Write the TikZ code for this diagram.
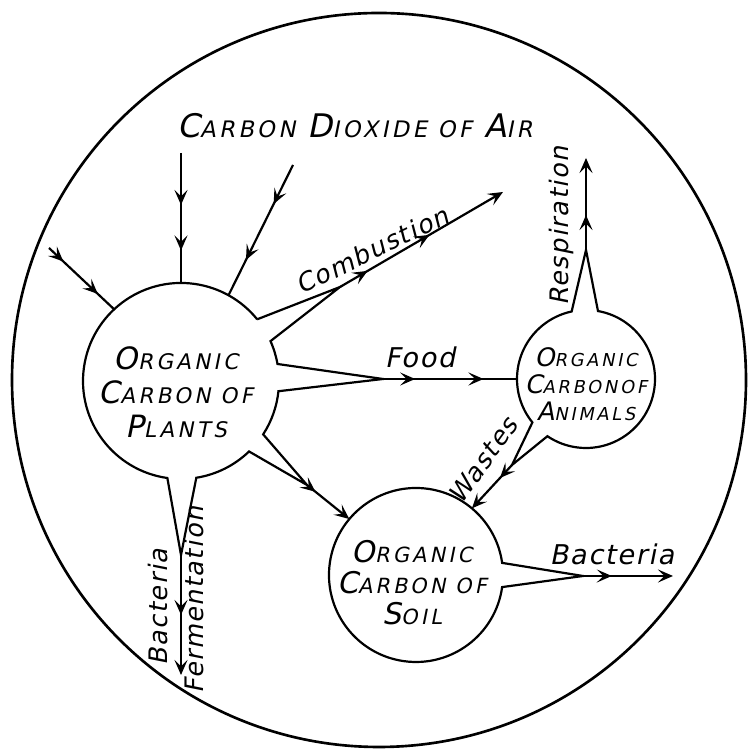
\documentclass[tikz,border=0pt]{standalone}
\usepackage{fontspec}
\newfontfamily\handfont[FakeSlant=0.2,LetterSpace=6]{DejaVu Sans}
\newfontfamily\handsmall[FakeSlant=0.2,Scale=0.7,LetterSpace=15]{DejaVu Sans}
\newcommand{\caps}[2]{#1{\handsmall #2}}
\usetikzlibrary{arrows.meta, decorations.markings}

\begin{document}
\begin{tikzpicture}[
    x=0.02cm, y=0.02cm,
    bubble/.style={circle, inner sep=0pt, outer sep=0pt},
    outline/.style={line width=1.25pt, line join=miter},
    flow/.style={line width=1.25pt},
    tip/.style={-{Stealth[length=3mm, width=2.6mm, inset=1.3mm]}},
    midhead/.style={postaction={decorate}, decoration={markings,
        mark=at position #1 with {\arrow{Stealth[length=3mm, width=2.6mm, inset=1.3mm]}}}},
    midheads/.style 2 args={postaction={decorate}, decoration={markings,
        mark=at position #1 with {\arrow{Stealth[length=3mm, width=2.6mm, inset=1.3mm]}},
        mark=at position #2 with {\arrow{Stealth[length=3mm, width=2.6mm, inset=1.3mm]}}}},
    title/.style={font=\handfont\fontsize{18.5}{21}\selectfont},
    inside/.style={align=center, font=\handfont\fontsize{17.5}{19.3}\selectfont},
    label/.style={font=\handfont\fontsize{14.5}{17}\selectfont}
]
\useasboundingbox (0,0) rectangle (751,749);

% Outer circle
\draw[line width=1.5pt] (379,369) circle[radius=367];

% Bubbles
\node[bubble, minimum size=3.92cm] (plants) at (181,368) {};
\node[bubble, minimum size=2.76cm] (animals) at (586,370) {};
\node[bubble, minimum size=3.48cm] (soil) at (416,174) {};

\node[inside] (plantstext) at (176,357) {\caps{O}{RGANIC}\\ \caps{C}{ARBON OF}\\ \caps{P}{LANTS}};
\node[inside, font=\handfont\fontsize{14.5}{15.4}\selectfont] (animalstext) at (586,365) {\caps{O}{RGANIC}\\ \caps{C}{ARBON\,OF}\\ \caps{A}{NIMALS}};
\node[inside, font=\handfont\fontsize{17}{17.6}\selectfont] (soiltext) at (412,166) {\caps{O}{RGANIC}\\ \caps{C}{ARBON OF}\\ \caps{S}{OIL}};

% Wedge tips and free ends
\coordinate (cbapex) at (340,462);
\coordinate (fdapex) at (383,370);
\coordinate (slapex) at (307,264);
\coordinate (frapex) at (181,194);
\coordinate (rsapex) at (586,499);
\coordinate (wsapex) at (512,284);
\coordinate (bcapex) at (583,173);
\coordinate (cbend) at (503,557);
\coordinate (rsend) at (586,591);
\coordinate (frend) at (181,74);
\coordinate (bcend) at (673,173);
\coordinate (intop) at (181,596);
\coordinate (inright) at (293,584);
\coordinate (inleft) at (49,501);

% Outlines with tapered outlets
\draw[outline] (plants.39) -- (cbapex) -- (plants.24)
    arc[start angle=24, end angle=10, radius=98] -- (fdapex) -- (plants.-6)
    arc[start angle=-6, end angle=-33, radius=98] -- (slapex) -- (plants.-46)
    arc[start angle=-46, end angle=-81, radius=98] -- (frapex) -- (plants.-98)
    arc[start angle=-98, end angle=-321, radius=98];
\draw[outline] (animals.80) arc[start angle=80, end angle=-124, radius=69]
    -- (wsapex) -- (animals.-141) arc[start angle=-141, end angle=-258, radius=69]
    -- (rsapex) -- cycle;
\draw[outline] (soil.8) -- (bcapex) -- (soil.-8)
    arc[start angle=-8, end angle=-352, radius=87] -- cycle;

% Flows
\draw[flow, midheads={0.4}{0.75}] (intop) -- (plants.90);
\draw[flow, midheads={0.3}{0.73}] (inright) -- (plants.61);
\draw[flow, midheads={0.22}{0.75}] (inleft) -- (plants.133);
\draw[flow, tip, midheads={0.17}{0.55}] (cbapex) -- (cbend);
\draw[flow, midheads={0.24}{0.75}] (fdapex) -- (animals.west);
\draw[flow, tip, midhead=0.2] (slapex) -- (soil.140);
\draw[flow, tip, midhead=0.5] (frapex) -- (frend);
\draw[flow, tip, midhead=0.38] (rsapex) -- (rsend);
\draw[flow, tip, midhead=0.3] (wsapex) -- (soil.50);
\draw[flow, tip, midhead=0.32] (bcapex) -- (bcend);

% Labels
\node[title, anchor=base] (air) at (355,611) {\caps{C}{ARBON} \caps{D}{IOXIDE OF} \caps{A}{IR}};
\node[label, rotate=26] (combustion) at (372,499) {Combustion};
\node[label, anchor=base, font=\handfont\fontsize{15.5}{17}\selectfont] (food) at (420,381) {Food};
\node[label, anchor=base, rotate=90] (respiration) at (568,523) {Respiration};
\node[label, rotate=54] (wastes) at (483,289) {Wastes};
\node[label, anchor=base, font=\handfont\fontsize{15.5}{17}\selectfont] (bactsoil) at (612,184) {Bacteria};
\node[label, anchor=base, rotate=90] (bactplants) at (167,142) {Bacteria};
\node[label, anchor=base, rotate=90] (fermentation) at (203,149) {Fermentation};

\end{tikzpicture}
\end{document}
